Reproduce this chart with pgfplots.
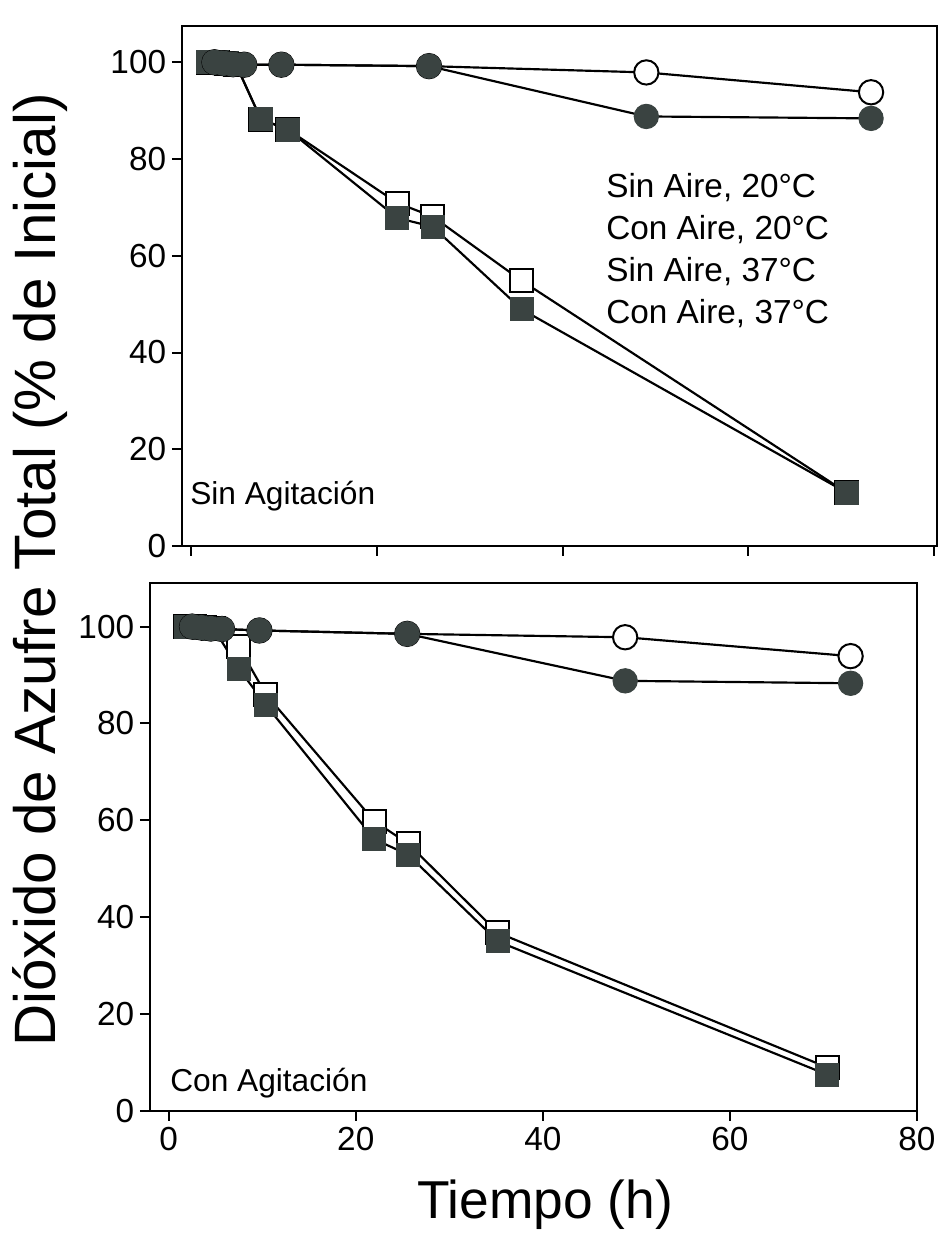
\documentclass[border=0pt]{standalone}
\usepackage{pgfplots}
\pgfplotsset{compat=1.18}
\usepackage{fontspec}
\setmainfont{Liberation Sans}
\definecolor{mk}{HTML}{3A4341}
\pgfplotsset{
  panel/.style={
    scale only axis, anchor=south west, clip=false,
    axis line style={line width=1.3pt},
    tick style={line width=1.2pt, black},
    major tick length=6pt, tick align=outside,
    xtick pos=bottom, ytick pos=left,
    xtick={0,20,40,60,80}, ytick={0,20,40,60,80,100},
    /pgf/number format/assume math mode=true,
    ticklabel style={font=\fontsize{20}{24}\selectfont},
    ymin=0,
  },
  oc/.style={black, line width=1.3pt, mark=*, mark size=7.3pt, mark options={fill=white, draw=black, line width=1.2pt}},
  fc/.style={black, line width=1.3pt, mark=*, mark size=7.3pt, mark options={fill=mk, draw=mk, line width=0.6pt}},
  os/.style={black, line width=1.3pt, mark=square*, mark size=6.9pt, mark options={fill=white, draw=black, line width=1.2pt}},
  fs/.style={black, line width=1.3pt, mark=square*, mark size=6.9pt, mark options={fill=mk, draw=mk, line width=0.6pt}},
}
\begin{document}
\begin{tikzpicture}
\useasboundingbox (0pt,0pt) rectangle (567.6pt,753pt);
% top panel: Sin Agitacion
\begin{axis}[panel, at={(109.2pt,425.4pt)}, width=453pt, height=312pt,
  xmin=-1, xmax=80.3, ymax=107.5, xticklabels={}]
\addplot[os] coordinates {(1.8,100) (2.8,100) (3.8,99.8) (4.8,99.6) (7.5,88.2) (10.4,86.1) (22.2,70.9) (26.0,68.1) (35.6,54.8) (70.6,11.0)};
\addplot[fs] coordinates {(1.8,100) (2.8,100) (3.8,99.8) (4.8,99.6) (7.5,88.2) (10.4,86.1) (22.2,67.8) (26.0,66.0) (35.6,48.9) (70.6,11.0)};
\addplot[oc] coordinates {(2.5,100) (3.5,99.8) (4.5,99.6) (5.7,99.5) (9.7,99.5) (25.6,99.2) (49.0,97.9) (73.2,93.8)};
\addplot[fc] coordinates {(2.5,100) (3.5,99.8) (4.5,99.6) (5.7,99.5) (9.7,99.5) (25.6,99.2) (49.0,88.8) (73.2,88.4)};
\end{axis}
% bottom panel: Con Agitacion
\begin{axis}[panel, at={(90pt,86.4pt)}, width=460.2pt, height=316.8pt,
  xmin=-2, xmax=80, ymax=109]
\addplot[os] coordinates {(1.8,100) (2.8,100) (3.8,99.8) (4.8,99.6) (7.5,95.8) (10.4,86.0) (22.0,59.8) (25.6,55.2) (35.2,36.8) (70.4,9.0)};
\addplot[fs] coordinates {(1.8,100) (2.8,100) (3.8,99.8) (4.8,99.6) (7.5,91.3) (10.4,83.8) (22.0,56.1) (25.6,52.9) (35.2,35.0) (70.4,7.5)};
\addplot[oc] coordinates {(2.5,100) (3.5,99.8) (4.5,99.6) (5.7,99.5) (9.7,99.2) (25.5,98.5) (48.8,97.8) (72.9,93.9)};
\addplot[fc] coordinates {(2.5,100) (3.5,99.8) (4.5,99.6) (5.7,99.5) (9.7,99.2) (25.5,98.5) (48.8,88.8) (72.9,88.3)};
\end{axis}
% legend text
\begin{scope}[every node/.style={anchor=base west, inner sep=0pt, font=\fontsize{20}{24}\selectfont}]
\node at (363.6pt,634.2pt) {Sin Aire, 20°C};
\node at (363.6pt,609.0pt) {Con Aire, 20°C};
\node at (363.6pt,583.8pt) {Sin Aire, 37°C};
\node at (363.6pt,558.6pt) {Con Aire, 37°C};
\end{scope}
\node[anchor=base west, inner sep=0pt, font=\fontsize{19}{23}\selectfont] at (114pt,450pt) {Sin Agitación};
\node[anchor=base west, inner sep=0pt, font=\fontsize{19}{23}\selectfont] at (102pt,97.8pt) {Con Agitación};
% axis titles
\node[rotate=90, inner sep=0pt, font=\fontsize{35}{40}\selectfont] at (24pt,411pt) {Dióxido de Azufre Total (\% de Inicial)};
\node[inner sep=0pt, font=\fontsize{32}{37}\selectfont] at (327pt,30pt) {Tiempo (h)};
\end{tikzpicture}
\end{document}
